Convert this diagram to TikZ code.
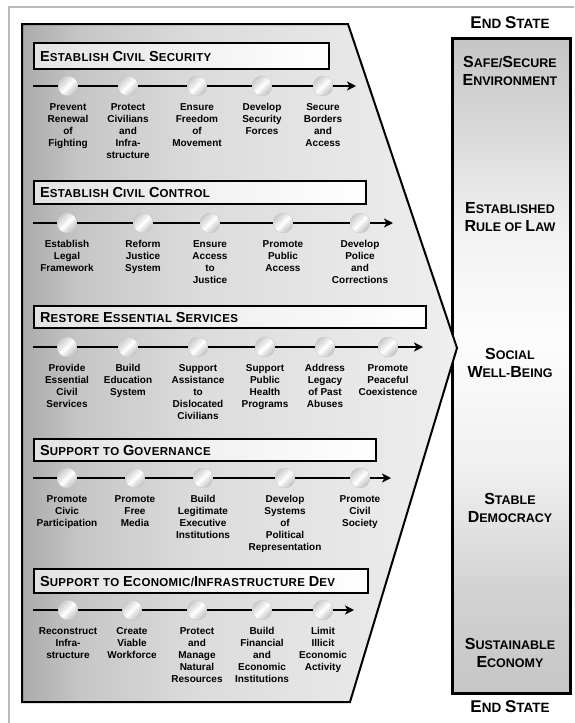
\documentclass[tikz,border=0pt]{standalone}
\usepackage{fontspec}
\setmainfont{Liberation Sans}
\usetikzlibrary{arrows.meta}

% brushed-metal panel, darker at the left edge
\pgfdeclarehorizontalshading{metalpanel}{100bp}{color(0bp)=(gray!66); color(25bp)=(gray!66); color(32bp)=(gray!44); color(45bp)=(gray!28); color(60bp)=(gray!20); color(75bp)=(gray!13); color(100bp)=(gray!13)}
% end-state bar: grey at both ends, nearly white in the middle
\pgfdeclareverticalshading{endstatebar}{100bp}{color(0bp)=(gray!45); color(25bp)=(gray!45); color(33bp)=(gray!35); color(42bp)=(gray!12); color(52bp)=(gray!2); color(60bp)=(gray!10); color(68bp)=(gray!30); color(75bp)=(gray!45); color(100bp)=(gray!45)}
% polished silver bead on the timelines
\pgfdeclareverticalshading{beadshade}{100bp}{color(0bp)=(gray!50); color(25bp)=(gray!50); color(40bp)=(gray!22); color(50bp)=(white); color(58bp)=(gray!15); color(75bp)=(gray!42); color(100bp)=(gray!42)}

\newcommand\hcap[1]{{\fontsize{14.5}{14.5}\selectfont #1}}
\newcommand\bcap[1]{{\fontsize{16}{16}\selectfont #1}}
\newcommand\ecap[1]{{\fontsize{17}{17}\selectfont #1}}

\tikzset{
  panel/.style={draw=black, line width=2pt, shading=metalpanel},
  endbar/.style={draw=black, line width=2.6pt, shading=endstatebar, anchor=north west, inner sep=0pt},
  hdr/.style={draw=black, line width=2.2pt, left color=gray!22, right color=white, anchor=north west,
    inner xsep=6pt, inner ysep=0pt, align=left,
    font=\bfseries\fontsize{11.5}{12}\selectfont\addfontfeature{LetterSpace=3}},
  bead/.style={circle, minimum size=20pt, inner sep=0pt, draw=gray!45, line width=0.3pt,
    shading=beadshade, shading angle=45},
  track/.style={line width=2.2pt, black},
  tip/.style={-{Stealth[length=9pt,width=9pt,inset=2.5pt]}},
  item/.style={anchor=north, align=center, inner sep=0pt, font=\bfseries\fontsize{10}{12}\selectfont},
  goal/.style={align=center, inner sep=0pt, font=\bfseries\fontsize{12.5}{18}\selectfont},
  endlabel/.style={inner sep=0pt, font=\bfseries\fontsize{13.5}{16}\selectfont},
  frameline/.style={gray!55, line width=1.5pt}
}

\begin{document}
\begin{tikzpicture}[x=1pt,y=-1pt]
\useasboundingbox (0,0) rectangle (574,723);

% outer frame
\draw[frameline] (9,723) -- (9,7) -- (574,7);

% end-state bar on the right
\node[endbar, minimum width=118pt, minimum height=655pt] (bar) at (451,37) {};

% arrow-shaped panel holding the lines of effort
\path[panel] (22,24) -- (348,24) -- (457,348) -- (350,702) -- (22,702) -- cycle;

% ---------- line of effort 1 ----------
\node[hdr, minimum width=295pt, minimum height=26pt, text width=283pt] (h1) at (33,42)
  {\hcap{E}STABLISH \hcap{C}IVIL \hcap{S}ECURITY};
\coordinate (r1s) at (33,86);
\coordinate (r1e) at (356,86);
\foreach \x [count=\i] in {68,128,197,262,323}
  \node[bead] (r1c\i) at (\x,86) {};
\draw[track,tip] (r1s) -- (r1c1) -- (r1c2) -- (r1c3) -- (r1c4) -- (r1c5) -- (r1e);
\foreach \t [count=\i] in {{Prevent\\Renewal\\of\\Fighting},
    {Protect\\Civilians\\and\\Infra-\\structure},
    {Ensure\\Freedom\\of\\Movement},
    {Develop\\Security\\Forces},
    {Secure\\Borders\\and\\Access}}
  \node[item] (r1l\i) at ([yshift=-7pt]r1c\i.south) {\t};

% ---------- line of effort 2 ----------
\node[hdr, minimum width=332pt, minimum height=23pt, text width=320pt] (h2) at (33,180)
  {\hcap{E}STABLISH \hcap{C}IVIL \hcap{C}ONTROL};
\coordinate (r2s) at (33,223);
\coordinate (r2e) at (393,223);
\foreach \x [count=\i] in {67,143,210,283,360}
  \node[bead] (r2c\i) at (\x,223) {};
\draw[track,tip] (r2s) -- (r2c1) -- (r2c2) -- (r2c3) -- (r2c4) -- (r2c5) -- (r2e);
\foreach \t [count=\i] in {{Establish\\Legal\\Framework},
    {Reform\\Justice\\System},
    {Ensure\\Access\\to\\Justice},
    {Promote\\Public\\Access},
    {Develop\\Police\\and\\Corrections}}
  \node[item] (r2l\i) at ([yshift=-7pt]r2c\i.south) {\t};

% ---------- line of effort 3 ----------
\node[hdr, minimum width=392pt, minimum height=22pt, text width=380pt] (h3) at (33,305)
  {\hcap{R}ESTORE \hcap{E}SSENTIAL \hcap{S}ERVICES};
\coordinate (r3s) at (33,347);
\coordinate (r3e) at (423,347);
\foreach \x [count=\i] in {67,128,198,265,325,388}
  \node[bead] (r3c\i) at (\x,347) {};
\draw[track,tip] (r3s) -- (r3c1) -- (r3c2) -- (r3c3) -- (r3c4) -- (r3c5) -- (r3c6) -- (r3e);
\foreach \t [count=\i] in {{Provide\\Essential\\Civil\\Services},
    {Build\\Education\\System},
    {Support\\Assistance\\to\\Dislocated\\Civilians},
    {Support\\Public\\Health\\Programs},
    {Address\\Legacy\\of Past\\Abuses},
    {Promote\\Peaceful\\Coexistence}}
  \node[item] (r3l\i) at ([yshift=-7pt]r3c\i.south) {\t};

% ---------- line of effort 4 ----------
\node[hdr, minimum width=342pt, minimum height=22pt, text width=330pt] (h4) at (33,438)
  {\hcap{S}UPPORT TO \hcap{G}OVERNANCE};
\coordinate (r4s) at (33,478);
\coordinate (r4e) at (391,478);
\foreach \x [count=\i] in {67,135,203,285,360}
  \node[bead] (r4c\i) at (\x,478) {};
\draw[track,tip] (r4s) -- (r4c1) -- (r4c2) -- (r4c3) -- (r4c4) -- (r4c5) -- (r4e);
\foreach \t [count=\i] in {{Promote\\Civic\\Participation},
    {Promote\\Free\\Media},
    {Build\\Legitimate\\Executive\\Institutions},
    {Develop\\Systems\\of\\Political\\Representation},
    {Promote\\Civil\\Society}}
  \node[item] (r4l\i) at ([yshift=-7pt]r4c\i.south) {\t};

% ---------- line of effort 5 ----------
\node[hdr, minimum width=334pt, minimum height=24pt, text width=322pt] (h5) at (33,568)
  {\hcap{S}UPPORT TO \hcap{E}CONOMIC/\hcap{I}NFRASTRUCTURE \hcap{D}EV};
\coordinate (r5s) at (33,610);
\coordinate (r5e) at (354,610);
\foreach \x [count=\i] in {68,132,197,262,323}
  \node[bead] (r5c\i) at (\x,610) {};
\draw[track,tip] (r5s) -- (r5c1) -- (r5c2) -- (r5c3) -- (r5c4) -- (r5c5) -- (r5e);
\foreach \t [count=\i] in {{Reconstruct\\Infra-\\structure},
    {Create\\Viable\\Workforce},
    {Protect\\and\\Manage\\Natural\\Resources},
    {Build\\Financial\\and\\Economic\\Institutions},
    {Limit\\Illicit\\Economic\\Activity}}
  \node[item] (r5l\i) at ([yshift=-7pt]r5c\i.south) {\t};

% ---------- end states ----------
\node[endlabel] (esTop) at (510,23) {\ecap{E}ND \ecap{S}TATE};
\node[endlabel] (esBot) at (510,707) {\ecap{E}ND \ecap{S}TATE};
\node[goal] (g1) at (510,71) {\bcap{S}AFE/\bcap{S}ECURE\\\bcap{E}NVIRONMENT};
\node[goal] (g2) at (510,217) {\bcap{E}STABLISHED\\\bcap{R}ULE OF \bcap{L}AW};
\node[goal] (g3) at (510,363) {\bcap{S}OCIAL\\\bcap{W}ELL-\bcap{B}EING};
\node[goal] (g4) at (510,508) {\bcap{S}TABLE\\\bcap{D}EMOCRACY};
\node[goal] (g5) at (510,653) {\bcap{S}USTAINABLE\\\bcap{E}CONOMY};
\end{tikzpicture}
\end{document}
